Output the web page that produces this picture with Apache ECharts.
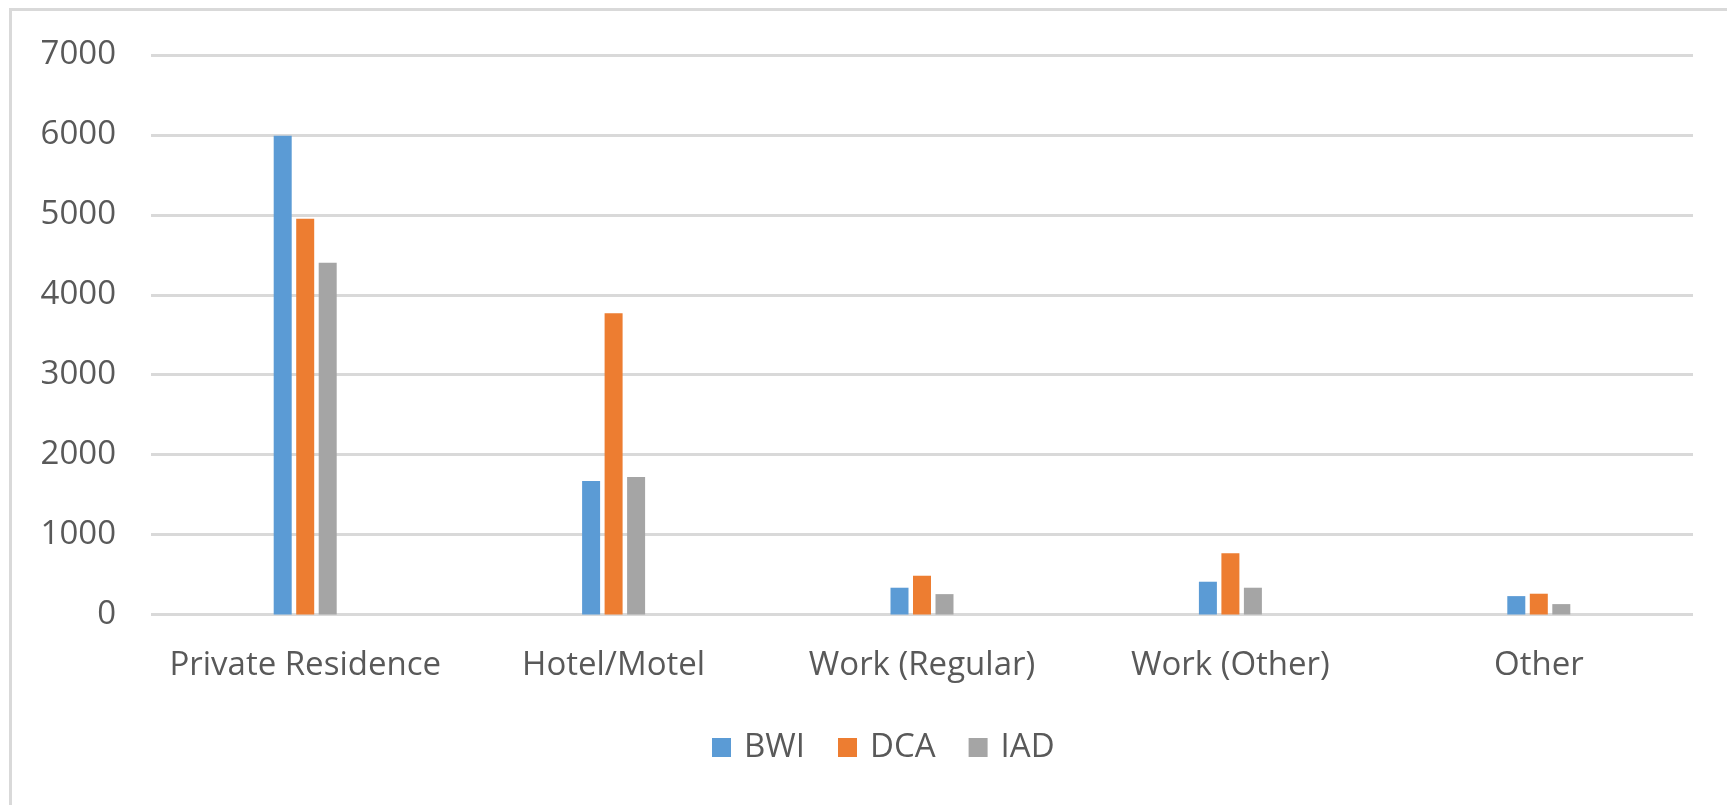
<!DOCTYPE html>
<html>
<head>
<meta charset="utf-8">
<script src="https://cdn.jsdelivr.net/npm/echarts@6/dist/echarts.min.js"></script>
<style>
html,body{margin:0;padding:0;background:#fff;}
#chart{width:1727px;height:805px;}
</style>
</head>
<body>
<div id="chart"></div>
<script>
const categories = ['Private Residence', 'Hotel/Motel', 'Work (Regular)', 'Work (Other)', 'Other'];
const seriesNames = ['BWI', 'DCA', 'IAD'];
const bwi = [5990, 1670, 335, 410, 230];
const dca = [4950, 3770, 485, 765, 260];
const iad = [4400, 1720, 255, 335, 130];
const colors = ['#5B9BD5', '#ED7D31', '#A5A5A5'];

const chart = echarts.init(document.getElementById('chart'), null, {renderer: 'canvas'});
const font = 'Open Sans';
const txt = '#595959';
const dataSets = [bwi, dca, iad];

chart.setOption({
  animation: false,
  backgroundColor: '#ffffff',
  graphic: [{
    type: 'rect',
    shape: {x: 10.5, y: 9.5, width: 2000, height: 2000},
    style: {fill: 'none', stroke: '#d9d9d9', lineWidth: 3},
    silent: true
  }],
  grid: {left: 151, right: 34, top: 55, bottom: 190.5, containLabel: false},
  legend: {
    data: seriesNames,
    left: 712,
    top: 731,
    padding: 0,
    itemWidth: 19,
    itemHeight: 19,
    itemGap: 33,
    icon: 'rect',
    textStyle: {fontFamily: font, fontSize: 33, color: txt, padding: [0, 0, 0, 8]}
  },
  xAxis: {
    type: 'category',
    data: categories,
    axisLine: {show: false},
    axisTick: {show: false},
    axisLabel: {fontFamily: font, fontSize: 33, color: txt, margin: 35, interval: 0}
  },
  yAxis: {
    type: 'value',
    min: 0, max: 7000, interval: 1000,
    axisLine: {show: false},
    axisTick: {show: false},
    axisLabel: {fontFamily: font, fontSize: 33, color: txt, margin: 35, formatter: v => String(v)},
    splitLine: {lineStyle: {color: '#d9d9d9', width: 3}}
  },
  series: seriesNames.map((n, i) => ({
    name: n,
    type: 'bar',
    data: dataSets[i],
    barWidth: 18,
    barGap: '25%',
    itemStyle: {color: colors[i]}
  }))
});
</script>
</body>
</html>
